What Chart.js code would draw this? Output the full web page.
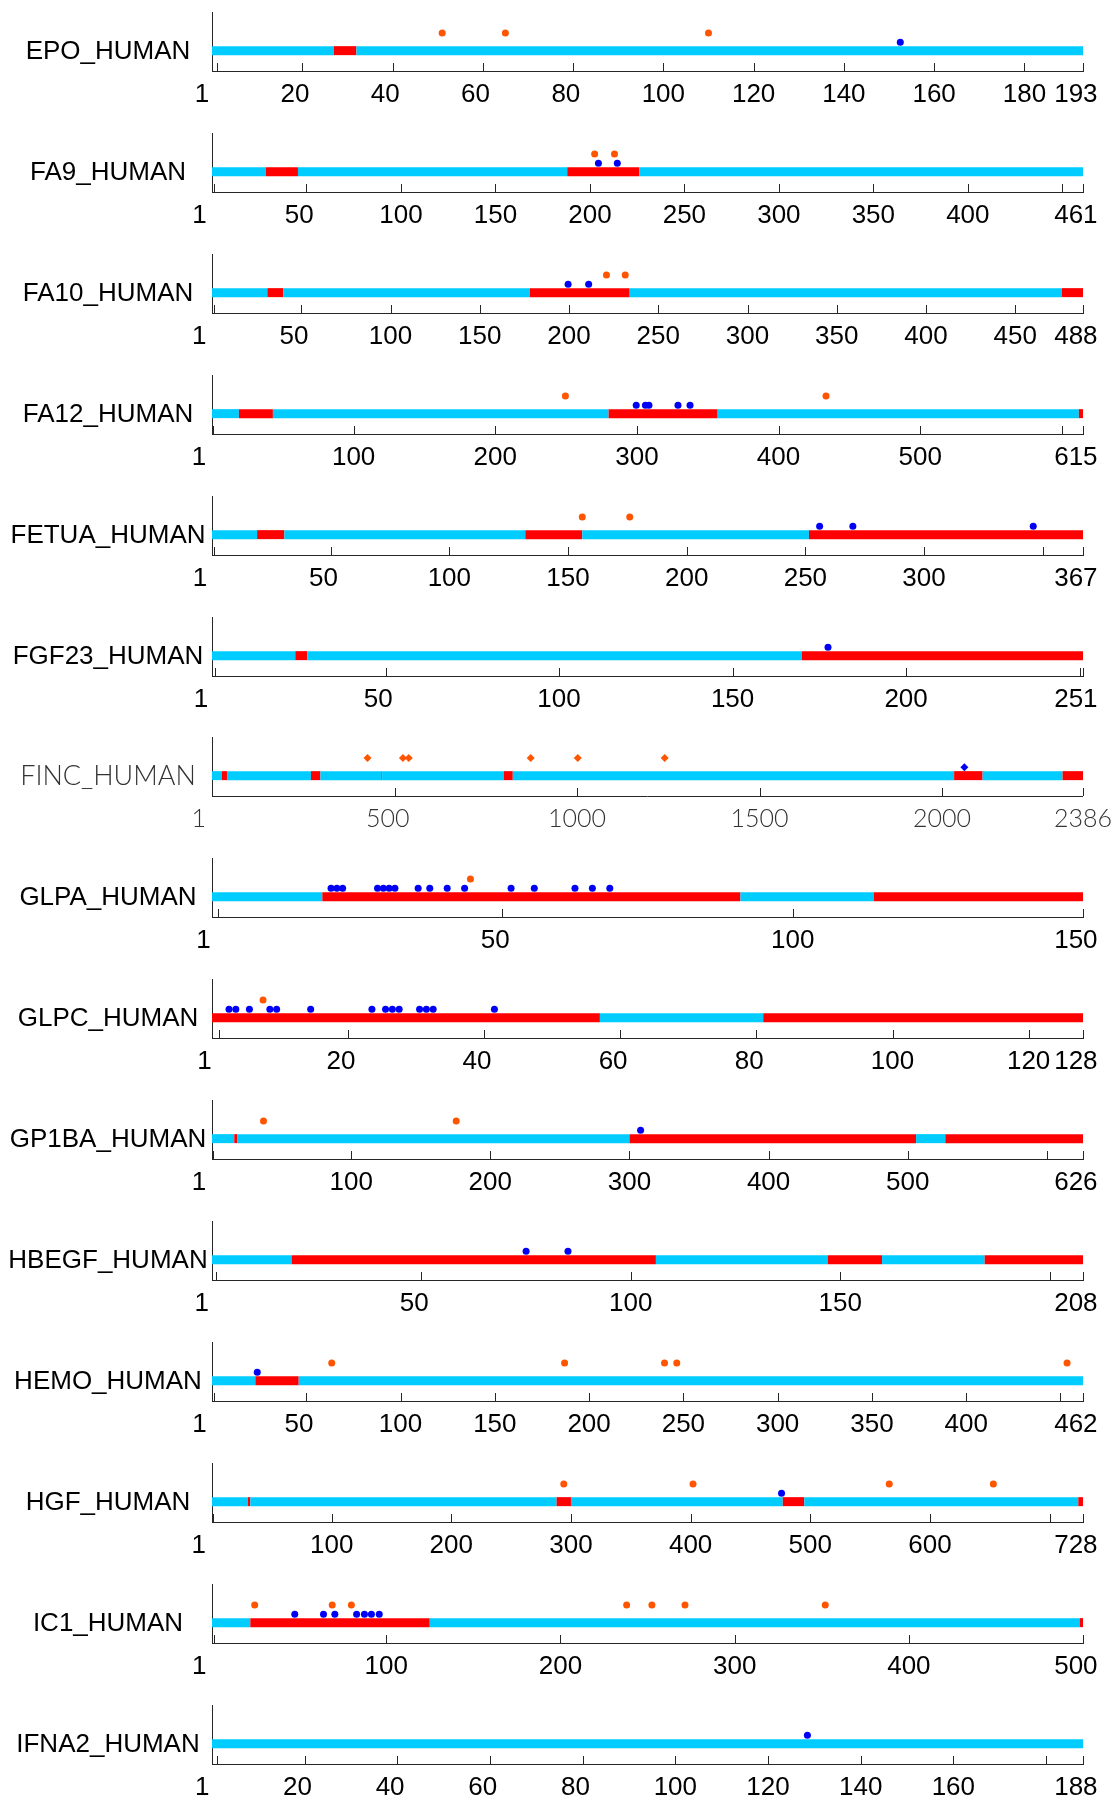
<!DOCTYPE html>
<html>
<head>
<meta charset="utf-8">
<script src="https://cdn.jsdelivr.net/npm/chart.js@4.4.0/dist/chart.umd.min.js"></script>
<style>
html, body { margin: 0; padding: 0; background: #fff; }
#wrap { position: relative; width: 1120px; height: 1795px; overflow: hidden; }
#wrap canvas { position: absolute; left: 0; }
</style>
</head>
<body>
<div id="wrap"></div>
<script>
// datos
const proteins = ['EPO_HUMAN', 'FA9_HUMAN', 'FA10_HUMAN', 'FA12_HUMAN', 'FETUA_HUMAN', 'FGF23_HUMAN', 'FINC_HUMAN',
  'GLPA_HUMAN', 'GLPC_HUMAN', 'GP1BA_HUMAN', 'HBEGF_HUMAN', 'HEMO_HUMAN', 'HGF_HUMAN', 'IC1_HUMAN', 'IFNA2_HUMAN'];
const lengths = [193, 461, 488, 615, 367, 251, 2386, 150, 128, 626, 208, 462, 728, 500, 188];

// tramos rojos [inicio, fin]; el resto de la barra es cyan
const redRegions = [
  [[27, 32]],
  [[28.5, 45.5], [188, 226]],
  [[31, 40], [178, 234], [476, 488]],
  [[19, 43], [280, 357], [612, 615]],
  [[19, 30.5], [132, 156], [251.5, 367]],
  [[24, 27.5], [170, 251]],
  [[27, 41], [271, 297], [464, 466], [799, 824], [2033, 2111], [2330, 2386]],
  [[19, 91], [114, 150]],
  [[0, 57], [81, 128]],
  [[16, 18], [300, 506], [527, 626]],
  [[19, 106], [147, 160], [184.5, 208]],
  [[23, 46]],
  [[30, 32], [288, 300], [477, 495], [724, 728]],
  [[22, 125], [498, 500]],
  []
];

const orangeSites = [
  [51, 65, 110],
  [202.5, 213],
  [221, 231.5],
  [249.5, 433.5],
  [156, 176],
  [],
  [426, 523, 539, 873, 1002, 1240],
  [44.5],
  [7.5],
  [37, 175.5],
  [],
  [63.5, 187, 240, 246.5, 453.5],
  [294, 402, 566, 653],
  [24.5, 69, 80, 238, 252.5, 271.5, 352],
  []
];

const blueSites = [
  [152.5],
  [204.5, 214.5],
  [199.5, 211],
  [299.5, 306, 308.5, 329, 337.5],
  [256, 270, 346],
  [177.5],
  [2061],
  [20.5, 21.5, 22.5, 28.5, 29.5, 30.5, 31.5, 35.5, 37.5, 40.5, 43.5, 51.5, 55.5, 62.5, 65.5, 68.5],
  [2.5, 3.5, 5.5, 8.5, 9.5, 14.5, 23.5, 25.5, 26.5, 27.5, 30.5, 31.5, 32.5, 41.5],
  [308],
  [75, 85],
  [24],
  [476],
  [47.5, 64, 70.5, 83, 87.5, 91.5, 96],
  [128.5]
];

const tickValues = [
  [1, 20, 40, 60, 80, 100, 120, 140, 160, 180, 193],
  [1, 50, 100, 150, 200, 250, 300, 350, 400, 450, 461],
  [1, 50, 100, 150, 200, 250, 300, 350, 400, 450, 488],
  [1, 100, 200, 300, 400, 500, 600, 615],
  [1, 50, 100, 150, 200, 250, 300, 350, 367],
  [1, 50, 100, 150, 200, 250, 251],
  [1, 500, 1000, 1500, 2000, 2386],
  [1, 50, 100, 150],
  [1, 20, 40, 60, 80, 100, 120, 128],
  [1, 100, 200, 300, 400, 500, 600, 626],
  [1, 50, 100, 150, 200, 208],
  [1, 50, 100, 150, 200, 250, 300, 350, 400, 450, 462],
  [1, 100, 200, 300, 400, 500, 600, 700, 728],
  [1, 100, 200, 300, 400, 500],
  [1, 20, 40, 60, 80, 100, 120, 140, 160, 180, 188]
];
// '' = marca sin etiqueta
const tickLabels = [
  ['1', '20', '40', '60', '80', '100', '120', '140', '160', '180', '193'],
  ['1', '50', '100', '150', '200', '250', '300', '350', '400', '', '461'],
  ['1', '50', '100', '150', '200', '250', '300', '350', '400', '450', '488'],
  ['1', '100', '200', '300', '400', '500', '', '615'],
  ['1', '50', '100', '150', '200', '250', '300', '', '367'],
  ['1', '50', '100', '150', '200', '', '251'],
  ['1', '500', '1000', '1500', '2000', '2386'],
  ['1', '50', '100', '150'],
  ['1', '20', '40', '60', '80', '100', '120', '128'],
  ['1', '100', '200', '300', '400', '500', '', '626'],
  ['1', '50', '100', '150', '', '208'],
  ['1', '50', '100', '150', '200', '250', '300', '350', '400', '', '462'],
  ['1', '100', '200', '300', '400', '500', '600', '', '728'],
  ['1', '100', '200', '300', '400', '500'],
  ['1', '20', '40', '60', '80', '100', '120', '140', '160', '', '188']
];

const PANEL_H = 120.9;
const CYAN = '#00ccff', RED = '#ff0000', ORANGE = '#ff5500', BLUE = '#0000f5', AXIS = '#262626';
const BAR_Y = 0.345, BLUE_Y = 0.487, ORANGE_Y = 0.645;
const FONT = 'Liberation Sans, Arial, sans-serif';

// puntos y colores de la barra a partir de los tramos rojos
function buildBar(len, reds) {
  const pts = [{ x: 0, y: BAR_Y }];
  const cols = [];
  let pos = 0;
  reds.forEach(r => {
    if (r[0] > pos) { pts.push({ x: r[0], y: BAR_Y }); cols.push(CYAN); }
    pts.push({ x: r[1], y: BAR_Y }); cols.push(RED);
    pos = r[1];
  });
  if (pos < len) { pts.push({ x: len, y: BAR_Y }); cols.push(CYAN); }
  return { pts, cols };
}

// las etiquetas del original van alineadas a la izquierda con ancho fijo;
// se imita con espacios al final
function padLabel(labels, idx, thin) {
  const lab = labels[idx];
  if (!lab) return '';
  let n;
  if (thin) {
    n = Math.min(4, 2 * Math.max(0, 4 - lab.length));
  } else {
    n = 2 * Math.max(0, 3 - lab.length);
    if (idx === labels.length - 1) n += 2;
  }
  return lab + ' '.repeat(n);
}

// nombre de la proteina y marcas hacia dentro del eje
const panelDecor = {
  id: 'panelDecor',
  afterDraw(chart, args, opts) {
    const { ctx, chartArea } = chart;
    const x = chart.scales.x, y = chart.scales.y;
    ctx.save();
    ctx.strokeStyle = AXIS;
    ctx.lineWidth = 1;
    x.ticks.forEach(t => {
      const px = Math.round(x.getPixelForValue(t.value)) + 0.5;
      ctx.beginPath();
      ctx.moveTo(px, chartArea.bottom);
      ctx.lineTo(px, chartArea.bottom - 8);
      ctx.stroke();
    });
    ctx.font = opts.font;
    ctx.fillStyle = opts.color;
    ctx.textAlign = 'center';
    ctx.textBaseline = 'middle';
    ctx.fillText(opts.name, 108, y.getPixelForValue(BAR_Y) + 1);
    ctx.restore();
  }
};

const wrap = document.getElementById('wrap');

proteins.forEach((name, i) => {
  const canvas = document.createElement('canvas');
  canvas.width = 1120;
  canvas.height = 121;
  canvas.style.top = Math.round(i * PANEL_H) + 'px';
  wrap.appendChild(canvas);

  const thin = name === 'FINC_HUMAN';
  const bar = buildBar(lengths[i], redRegions[i]);
  const tickFont = thin ? { family: 'Lato, ' + FONT, size: 25, weight: '300' } : { family: FONT, size: 26 };

  new Chart(canvas.getContext('2d'), {
    type: 'scatter',
    data: {
      datasets: [
        {
          data: bar.pts,
          showLine: true,
          borderWidth: 9,
          borderCapStyle: 'butt',
          borderColor: CYAN,
          pointRadius: 0,
          segment: { borderColor: c => bar.cols[c.p0DataIndex] },
          order: 3
        },
        {
          data: orangeSites[i].map(v => ({ x: v, y: ORANGE_Y })),
          pointStyle: thin ? 'rectRot' : 'circle',
          pointRadius: thin ? 4 : 3.5,
          backgroundColor: ORANGE,
          borderWidth: 0
        },
        {
          data: blueSites[i].map(v => ({ x: v, y: BLUE_Y })),
          pointStyle: thin ? 'rectRot' : 'circle',
          pointRadius: thin ? 4 : 3.5,
          backgroundColor: BLUE,
          borderWidth: 0
        }
      ]
    },
    options: {
      responsive: false,
      animation: false,
      devicePixelRatio: 1,
      layout: { padding: { left: 212, right: 35, top: 12, bottom: 0 } },
      plugins: {
        legend: { display: false },
        tooltip: { enabled: false },
        panelDecor: {
          name: name,
          color: thin ? '#333' : '#000',
          font: thin ? '300 27px Lato, ' + FONT : '26px ' + FONT
        }
      },
      scales: {
        x: {
          type: 'linear',
          min: 0,
          max: lengths[i],
          afterBuildTicks: s => { s.ticks = tickValues[i].map(v => ({ value: v })); },
          afterFit: s => { s.height = 50; },
          ticks: {
            autoSkip: false,
            maxRotation: 0,
            minRotation: 0,
            padding: 8,
            color: thin ? '#333' : '#000',
            font: tickFont,
            callback: (v, idx) => padLabel(tickLabels[i], idx, thin)
          },
          grid: { display: false, drawTicks: false },
          border: { display: true, color: AXIS, width: 1 }
        },
        y: {
          min: 0,
          max: 1,
          afterFit: s => { s.width = 0; },
          ticks: { display: false },
          grid: { display: false, drawTicks: false },
          border: { display: true, color: AXIS, width: 1 }
        }
      }
    },
    plugins: [panelDecor]
  });
});
</script>
</body>
</html>
